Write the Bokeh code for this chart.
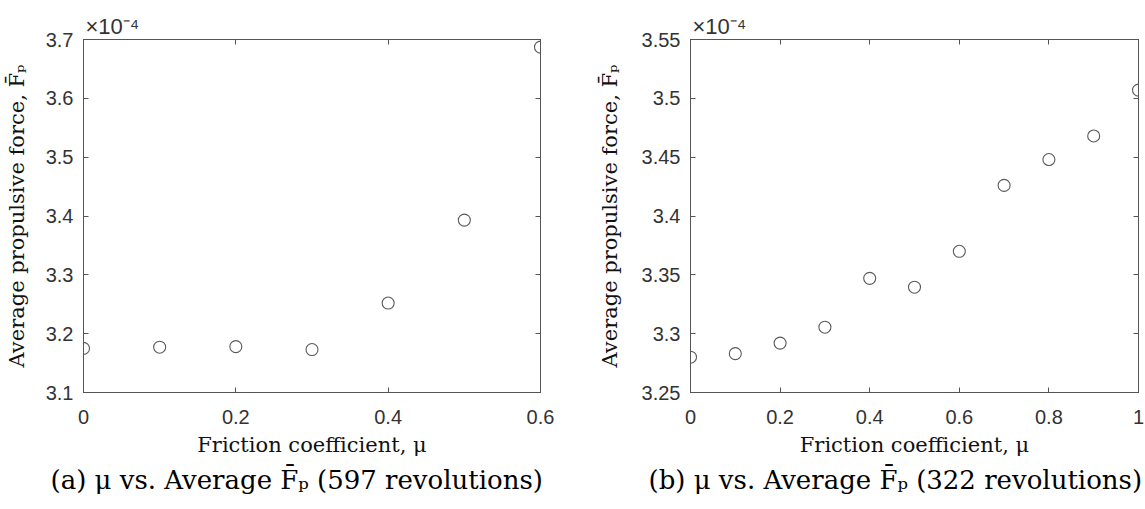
from bokeh.plotting import figure
from bokeh.layouts import row
from bokeh.models import LinearAxis, FixedTicker, Title
from bokeh.embed import file_html
from bokeh.resources import INLINE

# Panel (a): 597 revolutions, values in units of 1e-4
mu_a = [0.0, 0.1, 0.2, 0.3, 0.4, 0.5, 0.6]
fp_a = [3.175, 3.177, 3.178, 3.173, 3.252, 3.393, 3.687]
xticks_a = [0, 0.2, 0.4, 0.6]
xlabels_a = ["0", "0.2", "0.4", "0.6"]
yticks_a = [3.1, 3.2, 3.3, 3.4, 3.5, 3.6, 3.7]
ylabels_a = ["3.1", "3.2", "3.3", "3.4", "3.5", "3.6", "3.7"]

# Panel (b): 322 revolutions, values in units of 1e-4
mu_b = [0.0, 0.1, 0.2, 0.3, 0.4, 0.5, 0.6, 0.7, 0.8, 0.9, 1.0]
fp_b = [3.280, 3.283, 3.292, 3.3055, 3.347, 3.3395, 3.370, 3.426, 3.448, 3.468, 3.507]
xticks_b = [0, 0.2, 0.4, 0.6, 0.8, 1.0]
xlabels_b = ["0", "0.2", "0.4", "0.6", "0.8", "1"]
yticks_b = [3.25, 3.3, 3.35, 3.4, 3.45, 3.5, 3.55]
ylabels_b = ["3.25", "3.3", "3.35", "3.4", "3.45", "3.5", "3.55"]

AX = "#555555"
TXT = "#333333"
SANS = "Liberation Sans"
SERIF = "DejaVu Serif"


def panel(mu, fp, xt, xl, yt, yl, xr, yr, caption, width, height, borders,
          ylab_stand, cap_offset):
    left, right, top, bottom = borders
    p = figure(width=width, height=height, x_range=xr, y_range=yr,
               output_backend="svg", toolbar_location=None,
               title_location="below",
               min_border_left=left, min_border_right=right,
               min_border_top=top, min_border_bottom=bottom)
    p.grid.visible = False
    p.outline_line_color = AX
    p.outline_line_width = 1
    p.scatter(mu, fp, marker="circle", size=12, fill_color=None,
              line_color="#5a5a5a", line_width=1.1)
    for ax, ticks, labels in ((p.xaxis[0], xt, xl), (p.yaxis[0], yt, yl)):
        ax.ticker = FixedTicker(ticks=ticks)
        ax.major_label_overrides = {t: s for t, s in zip(ticks, labels)}
        ax.major_tick_in = 5
        ax.major_tick_out = 0
        ax.minor_tick_line_color = None
        ax.axis_line_color = AX
        ax.major_tick_line_color = AX
        ax.major_label_text_font = SANS
        ax.major_label_text_font_size = "20px"
        ax.major_label_text_color = TXT
        ax.axis_label_text_font = SERIF
        ax.axis_label_text_font_style = "normal"
        ax.axis_label_text_font_size = "21px"
        ax.axis_label_text_color = "#111111"
    p.xaxis[0].axis_label = "Friction coefficient, μ"
    p.yaxis[0].axis_label = "Average propulsive force, F̄ₚ"
    p.xaxis[0].major_label_standoff = 17
    p.yaxis[0].major_label_standoff = 10
    p.xaxis[0].axis_label_standoff = 6
    p.yaxis[0].axis_label_standoff = ylab_stand
    top_ax = LinearAxis(ticker=FixedTicker(ticks=xt), major_tick_in=5, major_tick_out=0,
                        minor_tick_line_color=None, axis_line_color=AX,
                        major_tick_line_color=AX, major_label_text_font_size="1px",
                        major_label_text_color=None, major_label_standoff=0)
    right_ax = LinearAxis(ticker=FixedTicker(ticks=yt), major_tick_in=5, major_tick_out=0,
                          minor_tick_line_color=None, axis_line_color=AX,
                          major_tick_line_color=AX, major_label_text_font_size="1px",
                          major_label_text_color=None, major_label_standoff=0)
    p.add_layout(top_ax, "above")
    p.add_layout(right_ax, "right")
    p.add_layout(Title(text="×10⁻⁴", align="left", offset=2, standoff=2,
                       text_font=SANS, text_font_size="22px", text_font_style="normal",
                       text_color=TXT), "above")
    p.title.text = caption
    p.title.align = "left"
    p.title.offset = cap_offset
    p.title.text_font = SERIF
    p.title.text_font_style = "normal"
    p.title.text_font_size = "26px"
    p.title.text_color = "#000000"
    p.title.standoff = 6
    return p


pa = panel(mu_a, fp_a, xticks_a, xlabels_a, yticks_a, ylabels_a, (0, 0.6), (3.1, 3.7),
           "(a) μ vs. Average F̄ₚ (597 revolutions)", 575, 509, (83, 35, 32, 117), 14, -33)
pb = panel(mu_b, fp_b, xticks_b, xlabels_b, yticks_b, ylabels_b, (0, 1.0), (3.25, 3.55),
           "(b) μ vs. Average F̄ₚ (322 revolutions)", 570, 509, (115, 7, 39, 116), 17, -42)

layout = row(pa, pb)
open("out.html", "w").write(file_html(layout, INLINE))
